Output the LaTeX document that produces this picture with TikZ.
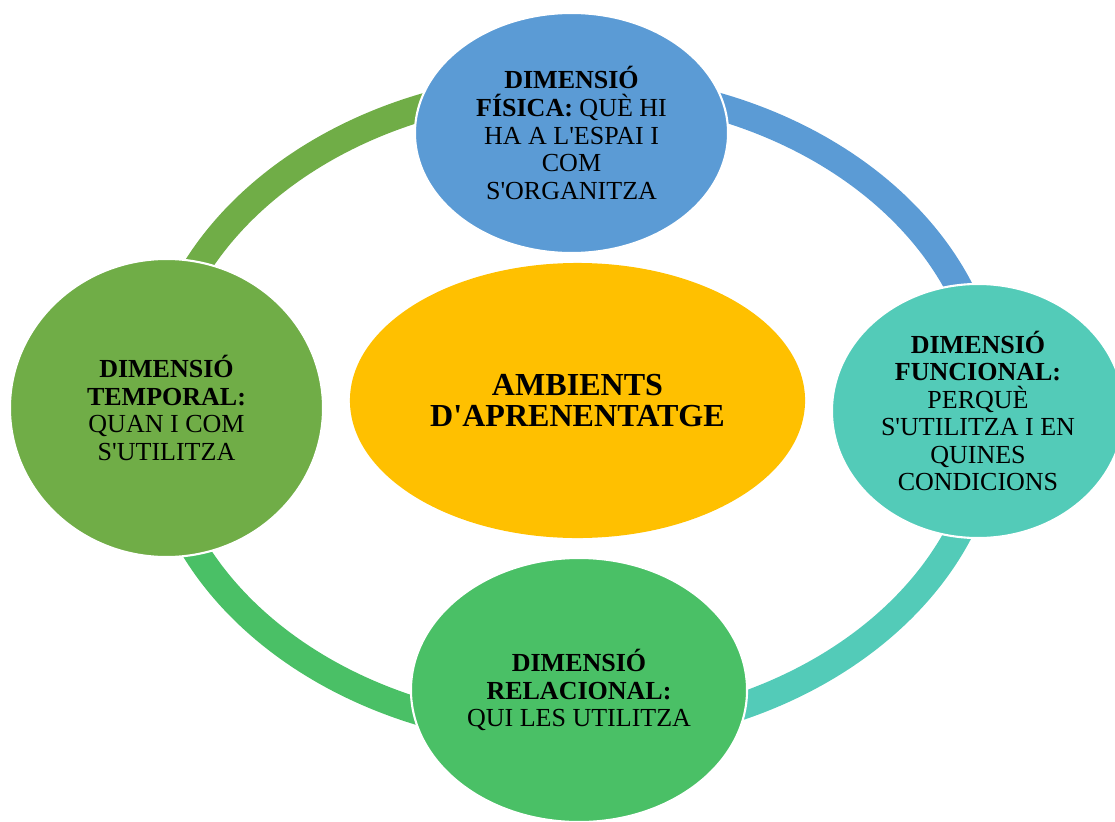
\documentclass[tikz,border=0pt]{standalone}
\usepackage{fontspec}
\setmainfont{Liberation Serif}
\usetikzlibrary{shapes.geometric}

\definecolor{blaufisica}{RGB}{91,155,213}
\definecolor{turquesafuncional}{RGB}{83,203,184}
\definecolor{verdrelacional}{RGB}{74,192,102}
\definecolor{verdtemporal}{RGB}{112,173,71}
\definecolor{orambients}{RGB}{255,192,0}

\newcommand{\apos}{\textquotesingle}

\tikzset{
  dimensio/.style={ellipse, draw=white, line width=1.5pt, inner sep=0pt,
    align=center, text=black, font=\fontsize{18.5}{19.6}\selectfont},
  anell/.style={line width=0.675cm},
}

\begin{document}
\begin{tikzpicture}[x=0.025cm,y=-0.025cm]
  \useasboundingbox (0,0) rectangle (1115,821);
  \def \cx {572}
  \def \cy {410}

  %% the ring behind the circles, one quarter for each colour
  \draw[anell, verdtemporal] (\cx,\cy) ++(180:418 and 324) arc (180:270:418 and 324);
  \draw[anell, blaufisica] (\cx,\cy) ++(270:418 and 324) arc (270:360:418 and 324);
  \draw[anell, turquesafuncional] (\cx,\cy) ++(0:418 and 324) arc (0:90:418 and 324);
  \draw[anell, verdrelacional] (\cx,\cy) ++(90:418 and 324) arc (90:180:418 and 324);

  \node[dimensio, fill=blaufisica, minimum width=7.825cm, minimum height=6cm]
    (fisica) at (571.5,133)
    {\textbf{DIMENSIÓ}\\\textbf{FÍSICA:} QUÈ HI\\HA A L\apos ESPAI I\\COM\\S\apos ORGANITZA};
  \node[dimensio, fill=turquesafuncional, minimum width=7.3cm, minimum height=6.35cm]
    (funcional) at (978,411)
    {\textbf{DIMENSIÓ}\\\textbf{FUNCIONAL:}\\PERQUÈ\\S\apos UTILITZA I EN\\QUINES\\CONDICIONS};
  \node[dimensio, fill=verdrelacional, minimum width=8.4cm, minimum height=6.6cm]
    (relacional) at (579,690)
    {\textbf{DIMENSIÓ}\\\textbf{RELACIONAL:}\\QUI LES UTILITZA};
  \node[dimensio, fill=verdtemporal, minimum width=7.825cm, minimum height=7.45cm]
    (temporal) at (166.5,408)
    {\textbf{DIMENSIÓ}\\\textbf{TEMPORAL:}\\QUAN I COM\\S\apos UTILITZA};

  \node[ellipse, fill=orambients, inner sep=0pt, align=center,
    minimum width=11.375cm, minimum height=6.875cm,
    font=\fontsize{22.8}{22}\selectfont\bfseries]
    (ambients) at (577.5,400.5) {AMBIENTS\\D\apos APRENENTATGE};

\end{tikzpicture}
\end{document}
